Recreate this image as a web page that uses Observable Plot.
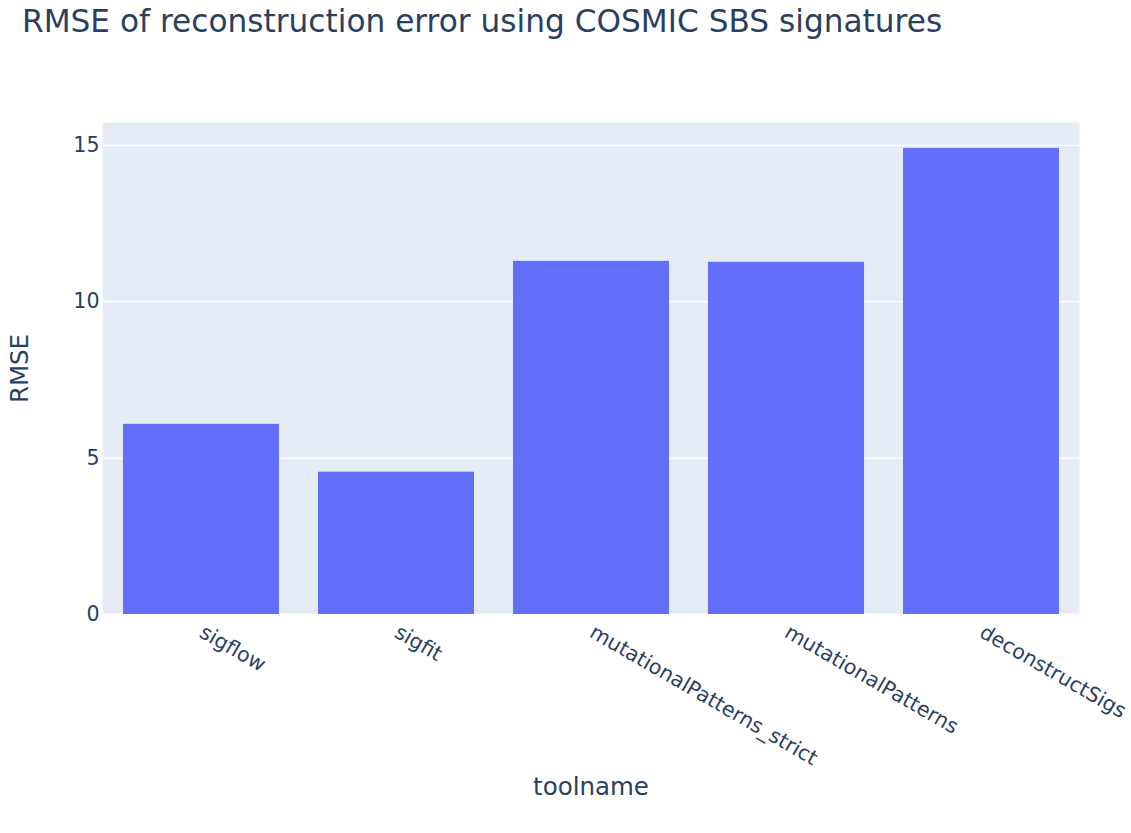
<!DOCTYPE html>
<html>
<head>
<meta charset="utf-8">
<script src="https://cdn.jsdelivr.net/npm/d3@7"></script>
<script src="https://cdn.jsdelivr.net/npm/@observablehq/plot@0.6"></script>
<style>
  html, body { margin: 0; padding: 0; background: white; }
  #wrap { position: relative; width: 1131px; height: 833px; overflow: hidden; }
  #title { position: absolute; left: 22px; top: 3px; height: 57px; font-family: "DejaVu Sans", sans-serif; font-size: 31.2px; line-height: 36px; color: #2a3f5f; white-space: nowrap; }
  #chart { position: absolute; left: 0; top: 60px; }
</style>
</head>
<body>
<div id="wrap">
  <div id="title">RMSE of reconstruction error using COSMIC SBS signatures</div>
  <div id="chart"></div>
</div>
<script>
const tools = ["sigflow", "sigfit", "mutationalPatterns_strict", "mutationalPatterns", "deconstructSigs"];
const rmse = [6.08, 4.55, 11.29, 11.26, 14.90];
const yTicks = [0, 5, 10, 15];

const data = tools.map((t, i) => ({toolname: t, RMSE: rmse[i]}));

const chart = Plot.plot({
  width: 1131,
  height: 773,
  marginTop: 62,
  marginBottom: 219,
  marginLeft: 102,
  marginRight: 52,
  style: {fontFamily: "'DejaVu Sans', sans-serif", fontSize: "20.6px", color: "#2a3f5f", background: "white", overflow: "visible"},
  x: {domain: tools, paddingInner: 0.2, paddingOuter: 0.1, label: null, tickSize: 0, tickPadding: 16, tickRotate: 30},
  y: {domain: [0, 15.73], ticks: yTicks, label: null, tickSize: 0, tickPadding: 3, tickFormat: d3.format("d")},
  marks: [
    Plot.frame({fill: "#e5ecf6", stroke: null}),
    Plot.gridY(yTicks, {stroke: "white", strokeOpacity: 1, strokeWidth: 1.2}),
    Plot.ruleY([0], {stroke: "white", strokeWidth: 2}),
    Plot.barY(data, {x: "toolname", y: "RMSE", fill: "#636efa"}),
    Plot.text(["RMSE"], {frameAnchor: "left", dx: -82, rotate: -90, textAnchor: "middle", text: d => d, fontSize: 24.5, fill: "#2a3f5f"}),
    Plot.text(["toolname"], {frameAnchor: "bottom", dy: 180, textAnchor: "middle", text: d => d, fontSize: 24.5, fill: "#2a3f5f"})
  ]
});
document.getElementById("chart").appendChild(chart);
</script>
</body>
</html>
